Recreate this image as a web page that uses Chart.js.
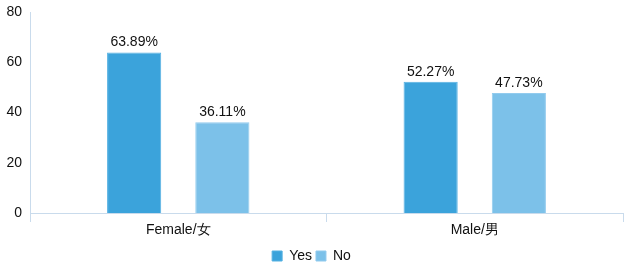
<!DOCTYPE html>
<html>
<head>
<meta charset="utf-8">
<script src="https://cdn.jsdelivr.net/npm/chart.js@4"></script>
<style>
  html, body { margin: 0; padding: 0; background: #fff; }
  #wrap { width: 631px; height: 266px; }
</style>
</head>
<body>
<div id="wrap"><canvas id="myChart" width="631" height="266"></canvas></div>
<script>
const categories = ["Female/女", "Male/男"];
const yesValues = [63.89, 52.27];
const noValues = [36.11, 47.73];
const yTicks = [0, 20, 40, 60, 80];

const axisColor = "#c9dbec";

// draw the percent labels above each bar
const barLabels = {
  id: "barLabels",
  afterDatasetsDraw(chart) {
    const ctx = chart.ctx;
    ctx.save();
    ctx.font = "14px 'Liberation Sans', Arial, sans-serif";
    ctx.fillStyle = "#111";
    ctx.textAlign = "center";
    ctx.textBaseline = "bottom";
    chart.data.datasets.forEach((ds, i) => {
      chart.getDatasetMeta(i).data.forEach((bar, j) => {
        ctx.fillText(ds.data[j].toFixed(2) + "%", bar.x, bar.y - 3);
      });
    });
    ctx.restore();
  },
};

Chart.defaults.font.family = "'Liberation Sans', Arial, sans-serif";
Chart.defaults.font.size = 14;
Chart.defaults.color = "#111";

new Chart(document.getElementById("myChart"), {
  type: "bar",
  data: {
    labels: categories,
    datasets: [
      {
        label: "Yes",
        data: yesValues,
        backgroundColor: "#3ba3db",
        borderColor: "#55b1e2",
        borderWidth: 1,
        categoryPercentage: 0.595,
        barPercentage: 0.614,
      },
      {
        label: "No",
        data: noValues,
        backgroundColor: "#7cc1e9",
        borderColor: "#92cbee",
        borderWidth: 1,
        categoryPercentage: 0.595,
        barPercentage: 0.614,
      },
    ],
  },
  options: {
    responsive: false,
    animation: false,
    layout: { padding: { top: 12, right: 8, left: 0, bottom: -7 } },
    plugins: {
      tooltip: { enabled: false },
      legend: {
        position: "bottom",
        labels: { boxWidth: 10, boxHeight: 10, padding: 4, font: { size: 14 } },
      },
    },
    scales: {
      x: {
        grid: { drawOnChartArea: false, color: axisColor, tickLength: 9 },
        border: { color: axisColor },
        ticks: { padding: 0 },
        afterFit(axis) { axis.height = 32; },
      },
      y: {
        min: 0,
        max: 80,
        afterBuildTicks(axis) { axis.ticks = yTicks.map((v) => ({ value: v })); },
        grid: { display: false, drawTicks: false },
        border: { color: axisColor },
        ticks: { padding: 8 },
        afterFit(axis) {
          axis.width = 30;
          axis.paddingTop = 0;
          axis.paddingBottom = 0;
        },
      },
    },
  },
  plugins: [barLabels],
});
</script>
</body>
</html>
